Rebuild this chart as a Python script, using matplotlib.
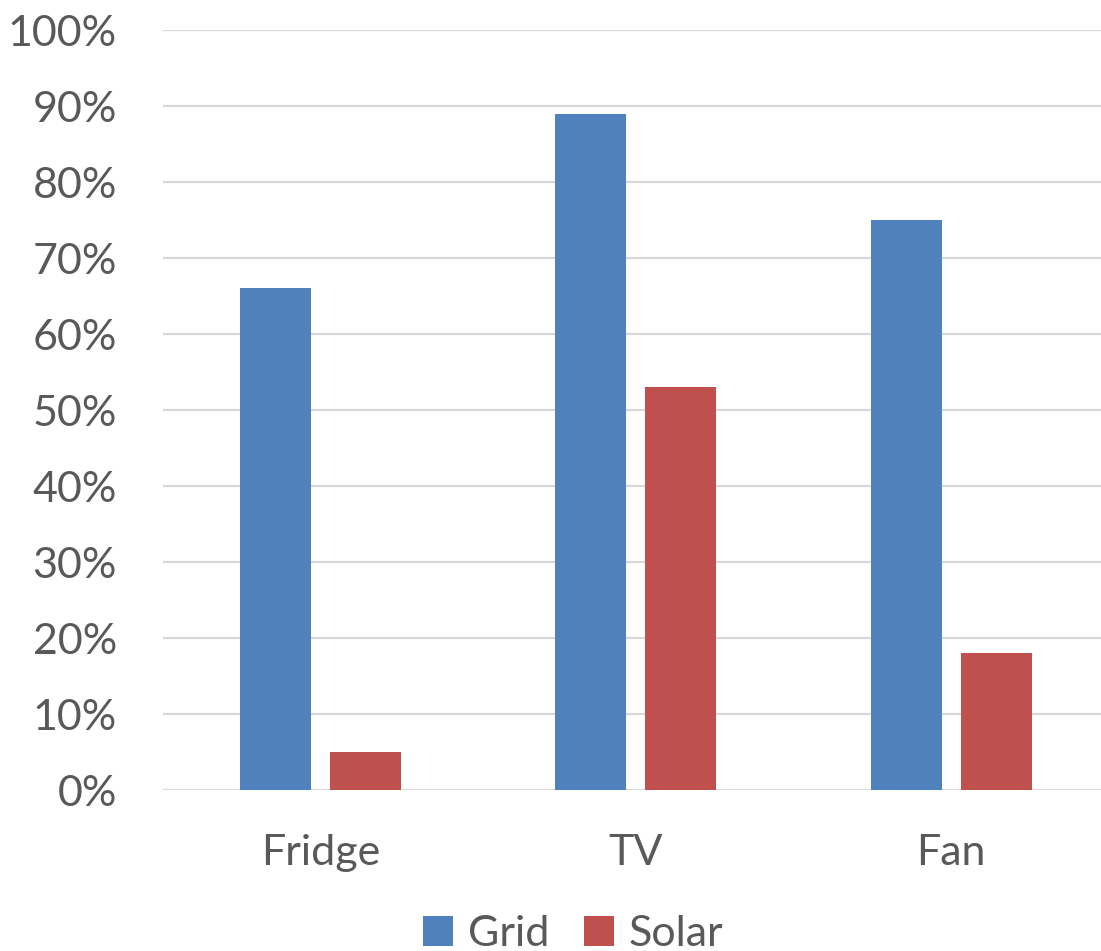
import matplotlib.pyplot as plt
import numpy as np
from matplotlib.ticker import PercentFormatter

# appliance share by power source
appliances = ["Fridge", "TV", "Fan"]
grid_pct = [66, 89, 75]
solar_pct = [5, 53, 18]
series_names = ["Grid", "Solar"]

blue = "#4F81BD"
red = "#C0504D"
text_grey = "#595959"

plt.rcParams['font.family'] = ['Lato', 'DejaVu Sans']

fig = plt.figure(figsize=(11.01, 9.51), dpi=100)
ax = fig.add_axes([162.75 / 1101, 1 - 790 / 951, (1109 - 162.75) / 1101, (790 - 30) / 951])

x = np.arange(len(appliances))
w = 0.225
off = 0.1426
ax.bar(x - off, grid_pct, width=w, color=blue, label=series_names[0], zorder=3)
ax.bar(x + off, solar_pct, width=w, color=red, label=series_names[1], zorder=3)

ax.set_xlim(-0.5, len(appliances) - 0.5)
ax.set_ylim(0, 100)
ax.set_yticks(np.arange(0, 101, 10))
ax.yaxis.set_major_formatter(PercentFormatter(decimals=0))
ax.set_xticks(x)
ax.set_xticklabels(appliances)

ax.grid(axis='y', color="#D9D9D9", linewidth=1.6, zorder=0)
for s in ax.spines.values():
    s.set_visible(False)
ax.tick_params(axis='y', length=0, pad=33, labelsize=31, labelcolor=text_grey)
ax.tick_params(axis='x', length=0, pad=32, labelsize=31, labelcolor=text_grey)

fig.legend(loc='center', bbox_to_anchor=(573 / 1101, 1 - 934 / 951), ncol=2, frameon=False,
           fontsize=31, labelcolor=text_grey, handlelength=0.7, handleheight=0.7,
           handletextpad=0.35, columnspacing=0.8, borderpad=0, borderaxespad=0)

fig.savefig("out.png", dpi=100)
